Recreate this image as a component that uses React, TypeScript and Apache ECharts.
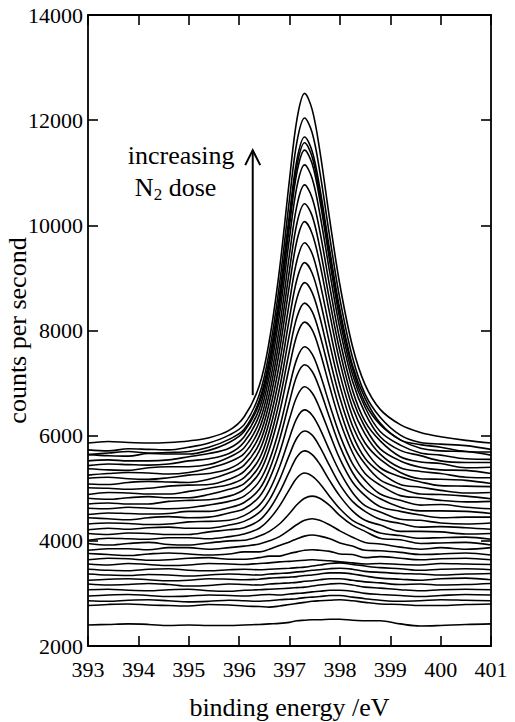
import React, { useEffect, useRef } from "react";
import * as echarts from "echarts";

// binding energy grid (eV)
const energies = [393.0, 393.4, 393.8, 394.2, 394.6, 395.0, 395.4, 395.8, 396.1, 396.4, 396.6, 396.8, 397.0, 397.15, 397.3, 397.45, 397.6, 397.8, 398.0, 398.25, 398.5, 398.8, 399.2, 399.6, 400.0, 400.5, 401.0];

// counts per second, highest N2 dose first
const s00 = [5860, 5890, 5870, 5860, 5870, 5900, 5960, 6100, 6360, 6950, 7810, 9150, 10870, 12030, 12510, 12200, 11430, 10100, 8870, 7700, 6970, 6500, 6210, 6060, 5980, 5910, 5860];
const s01 = [5730, 5710, 5750, 5740, 5730, 5780, 5860, 6010, 6210, 6780, 7600, 8870, 10500, 11600, 12040, 11760, 11030, 9770, 8600, 7490, 6790, 6350, 6010, 5870, 5840, 5810, 5740];
const s02 = [5640, 5670, 5700, 5670, 5680, 5700, 5780, 5930, 6120, 6670, 7450, 8660, 10210, 11260, 11680, 11410, 10720, 9520, 8400, 7340, 6710, 6240, 5920, 5830, 5780, 5700, 5690];
const s03 = [5640, 5620, 5610, 5660, 5650, 5650, 5720, 5870, 6080, 6610, 7390, 8580, 10120, 11150, 11570, 11300, 10610, 9430, 8330, 7280, 6620, 6210, 5920, 5760, 5710, 5700, 5630];
const s04 = [5520, 5540, 5520, 5520, 5540, 5600, 5660, 5760, 5980, 6510, 7280, 8470, 9990, 11020, 11430, 11170, 10490, 9310, 8210, 7170, 6540, 6080, 5820, 5670, 5630, 5560, 5550];
const s05 = [5430, 5460, 5450, 5440, 5460, 5520, 5560, 5660, 5880, 6390, 7140, 8290, 9760, 10750, 11150, 10890, 10230, 9100, 8040, 7040, 6430, 5980, 5720, 5620, 5520, 5490, 5490];
const s06 = [5370, 5350, 5340, 5390, 5410, 5410, 5450, 5590, 5770, 6260, 6970, 8050, 9450, 10390, 10770, 10520, 9900, 8830, 7820, 6870, 6270, 5900, 5600, 5500, 5470, 5390, 5400];
const s07 = [5250, 5280, 5300, 5290, 5270, 5300, 5380, 5500, 5660, 6130, 6800, 7830, 9150, 10050, 10410, 10180, 9580, 8560, 7610, 6700, 6160, 5750, 5520, 5400, 5350, 5340, 5280];
const s08 = [5190, 5210, 5180, 5170, 5200, 5250, 5280, 5370, 5550, 5990, 6630, 7610, 8870, 9720, 10070, 9840, 9280, 8310, 7400, 6540, 6030, 5650, 5390, 5320, 5280, 5210, 5200];
const s09 = [5080, 5070, 5110, 5130, 5120, 5110, 5170, 5290, 5440, 5850, 6450, 7370, 8550, 9340, 9670, 9460, 8930, 8020, 7170, 6370, 5860, 5550, 5300, 5180, 5170, 5150, 5090];
const s10 = [5010, 5000, 4980, 5000, 5040, 5060, 5070, 5170, 5320, 5710, 6270, 7130, 8240, 8980, 9290, 9090, 8600, 7740, 6950, 6190, 5730, 5390, 5220, 5120, 5050, 5040, 5030];
const s11 = [4880, 4920, 4910, 4890, 4890, 4940, 5000, 5070, 5200, 5560, 6090, 6890, 7930, 8620, 8910, 8720, 8260, 7460, 6720, 6020, 5570, 5300, 5070, 5020, 4960, 4910, 4920];
const s12 = [4810, 4790, 4820, 4840, 4820, 4820, 4880, 4980, 5090, 5420, 5910, 6660, 7620, 8260, 8520, 8360, 7930, 7190, 6500, 5840, 5460, 5160, 5000, 4890, 4880, 4850, 4800];
const s13 = [4700, 4720, 4700, 4700, 4750, 4770, 4780, 4850, 4980, 5290, 5740, 6430, 7320, 7920, 8160, 8010, 7610, 6920, 6280, 5680, 5280, 5060, 4860, 4820, 4770, 4740, 4750];
const s14 = [4620, 4610, 4640, 4620, 4610, 4630, 4680, 4750, 4850, 5130, 5530, 6140, 6940, 7470, 7690, 7550, 7190, 6580, 6010, 5470, 5150, 4890, 4770, 4680, 4690, 4640, 4610];
const s15 = [4500, 4530, 4520, 4510, 4520, 4560, 4560, 4630, 4730, 4980, 5350, 5920, 6650, 7150, 7350, 7220, 6890, 6330, 5800, 5300, 4990, 4800, 4640, 4570, 4570, 4560, 4520];
const s16 = [4440, 4420, 4400, 4440, 4460, 4440, 4450, 4530, 4610, 4840, 5170, 5670, 6320, 6750, 6930, 6810, 6520, 6030, 5560, 5120, 4860, 4650, 4560, 4490, 4440, 4450, 4450];
const s17 = [4320, 4340, 4330, 4310, 4320, 4360, 4370, 4390, 4480, 4680, 4960, 5400, 5960, 6340, 6490, 6390, 6140, 5710, 5310, 4920, 4670, 4550, 4410, 4390, 4340, 4320, 4340];
const s18 = [4210, 4240, 4220, 4250, 4260, 4240, 4240, 4300, 4370, 4540, 4780, 5160, 5640, 5960, 6090, 6010, 5790, 5420, 5070, 4750, 4560, 4410, 4330, 4260, 4270, 4250, 4220];
const s19 = [4140, 4120, 4150, 4140, 4120, 4120, 4170, 4210, 4250, 4390, 4600, 4920, 5320, 5600, 5710, 5640, 5460, 5140, 4850, 4570, 4390, 4300, 4180, 4180, 4170, 4130, 4140];
const s20 = [4010, 4050, 4040, 4030, 4060, 4060, 4040, 4080, 4130, 4240, 4410, 4660, 4980, 5200, 5290, 5230, 5090, 4840, 4610, 4390, 4270, 4150, 4100, 4050, 4060, 4070, 4030];
const s21 = [3950, 3920, 3950, 3970, 3930, 3920, 3960, 4000, 4010, 4090, 4180, 4320, 4520, 4690, 4810, 4850, 4810, 4670, 4480, 4300, 4180, 4050, 4020, 3950, 3960, 3970, 3920];
const s22 = [3820, 3850, 3850, 3830, 3870, 3870, 3840, 3870, 3900, 3940, 4000, 4080, 4210, 4310, 4390, 4420, 4390, 4300, 4190, 4070, 3970, 3940, 3880, 3840, 3870, 3840, 3870];
const s23 = [3760, 3740, 3720, 3750, 3770, 3750, 3730, 3750, 3790, 3790, 3840, 3910, 3980, 4040, 4090, 4110, 4090, 4040, 3960, 3900, 3820, 3810, 3780, 3740, 3750, 3770, 3730];
const s24 = [3640, 3670, 3660, 3630, 3640, 3670, 3680, 3650, 3650, 3680, 3710, 3710, 3760, 3790, 3820, 3830, 3820, 3800, 3750, 3740, 3680, 3700, 3670, 3640, 3660, 3670, 3640];
const s25 = [3560, 3540, 3570, 3550, 3530, 3540, 3570, 3560, 3550, 3570, 3580, 3600, 3610, 3620, 3630, 3640, 3630, 3620, 3600, 3580, 3560, 3570, 3550, 3540, 3570, 3560, 3550];
const s26 = [3460, 3440, 3430, 3460, 3470, 3440, 3430, 3450, 3460, 3450, 3460, 3470, 3480, 3490, 3500, 3520, 3540, 3570, 3580, 3550, 3520, 3490, 3470, 3440, 3460, 3470, 3450];
const s27 = [3370, 3350, 3340, 3360, 3350, 3330, 3350, 3370, 3360, 3350, 3370, 3380, 3390, 3410, 3420, 3440, 3450, 3470, 3480, 3460, 3420, 3400, 3380, 3370, 3350, 3370, 3380];
const s28 = [3250, 3270, 3280, 3260, 3240, 3250, 3280, 3270, 3260, 3270, 3290, 3300, 3310, 3320, 3340, 3350, 3370, 3390, 3390, 3370, 3330, 3290, 3270, 3250, 3280, 3290, 3260];
const s29 = [3180, 3160, 3170, 3190, 3170, 3140, 3150, 3180, 3170, 3160, 3180, 3190, 3200, 3210, 3230, 3240, 3260, 3280, 3280, 3250, 3220, 3200, 3170, 3180, 3160, 3170, 3190];
const s30 = [3070, 3080, 3060, 3050, 3070, 3080, 3050, 3040, 3060, 3070, 3080, 3090, 3100, 3110, 3120, 3140, 3160, 3180, 3190, 3160, 3120, 3100, 3070, 3050, 3070, 3080, 3070];
const s31 = [2950, 2970, 2980, 2960, 2940, 2950, 2970, 2960, 2950, 2970, 2980, 2970, 2990, 3000, 3010, 3030, 3040, 3060, 3060, 3040, 3000, 2980, 2960, 2940, 2960, 2980, 2970];
const s32 = [2860, 2850, 2870, 2880, 2860, 2840, 2850, 2870, 2860, 2850, 2860, 2880, 2890, 2900, 2920, 2930, 2940, 2960, 2960, 2930, 2900, 2870, 2850, 2860, 2880, 2870, 2860];
const s33 = [2770, 2790, 2800, 2780, 2770, 2760, 2790, 2780, 2760, 2750, 2740, 2760, 2790, 2810, 2830, 2850, 2860, 2870, 2880, 2860, 2830, 2800, 2790, 2770, 2770, 2790, 2800];
const s34 = [2400, 2410, 2420, 2410, 2390, 2400, 2390, 2390, 2400, 2410, 2420, 2430, 2450, 2480, 2490, 2500, 2500, 2510, 2510, 2490, 2480, 2480, 2420, 2380, 2390, 2410, 2420];

const spectra = [s00, s01, s02, s03, s04, s05, s06, s07, s08, s09, s10, s11, s12, s13, s14, s15, s16, s17, s18, s19, s20, s21, s22, s23, s24, s25, s26, s27, s28, s29, s30, s31, s32, s33, s34];

// axis settings
const xMin = 393;
const xMax = 401;
const yMin = 2000;
const yMax = 14000;
const yStep = 2000;
const xTitle = "binding energy /eV";
const yTitle = "counts per second";

// annotation arrow (data coordinates)
const arrowEnergy = 396.27;
const arrowFrom = 6770;
const arrowTo = 11430;
const annotationLine1 = "increasing";
const annotationLine2 = ["N", "2", " dose"];

const FONT = "Liberation Serif";

export default function App() {
  const ref = useRef<HTMLDivElement>(null);

  useEffect(() => {
    if (!ref.current) return;
    const chart = echarts.init(ref.current, null, { renderer: "svg" });
    const axisLine = { show: true, lineStyle: { color: "#000", width: 1.8 } };
    const tick = { show: true, inside: true, length: 10, lineStyle: { color: "#000", width: 1.6 } };
    const labelRich = { t: { color: "#000", fontFamily: FONT, fontSize: 22 } };
    const nameRich = { t: { color: "#000", fontFamily: FONT, fontSize: 26 } };
    const option: any = {
      animation: false,
      backgroundColor: "#fff",
      textStyle: { fontFamily: FONT, color: "#000" },
      grid: { left: 88, right: 24, top: 15, bottom: 76, containLabel: false, outerBoundsMode: "none" },
      xAxis: [
        {
          type: "value",
          min: xMin,
          max: xMax,
          interval: 1,
          position: "bottom",
          axisLine,
          axisTick: tick,
          splitLine: { show: false },
          axisLabel: {
            color: "#000", fontFamily: FONT, fontSize: 22, margin: 12,
            formatter: (v: number) => "{t|" + v + "}",
            rich: labelRich,
          },
          name: "{t|" + xTitle + "}",
          nameLocation: "middle",
          nameGap: 48,
          nameMoveOverlap: false,
          nameTextStyle: { color: "#000", fontFamily: FONT, fontSize: 26, rich: nameRich },
        },
        {
          type: "value",
          min: xMin,
          max: xMax,
          interval: 1,
          position: "top",
          axisLine,
          axisTick: tick,
          splitLine: { show: false },
          axisLabel: { show: false },
        },
      ],
      yAxis: [
        {
          type: "value",
          min: yMin,
          max: yMax,
          interval: yStep,
          position: "left",
          axisLine,
          axisTick: tick,
          splitLine: { show: false },
          axisLabel: {
            color: "#000", fontFamily: FONT, fontSize: 22, margin: 5,
            formatter: (v: number) => "{t|" + v + "}",
            rich: labelRich,
          },
          name: "{t|" + yTitle + "}",
          nameLocation: "middle",
          nameGap: 58,
          nameMoveOverlap: false,
          nameTextStyle: { color: "#000", fontFamily: FONT, fontSize: 26, rich: nameRich },
        },
        {
          type: "value",
          min: yMin,
          max: yMax,
          interval: yStep,
          position: "right",
          axisLine,
          axisTick: tick,
          splitLine: { show: false },
          axisLabel: { show: false },
        },
      ],
      series: spectra.map((s, i) => ({
        type: "line",
        name: "spectrum " + (i + 1),
        xAxisIndex: 0,
        yAxisIndex: 0,
        data: energies.map((e, j) => [e, s[j]]),
        smooth: 0.35,
        showSymbol: false,
        symbol: "none",
        silent: true,
        lineStyle: { color: "#000", width: 1.6 },
      })),
    };
    chart.setOption(option);

    const top = chart.convertToPixel({ xAxisIndex: 0, yAxisIndex: 0 }, [arrowEnergy, arrowTo]) as number[];
    const bottom = chart.convertToPixel({ xAxisIndex: 0, yAxisIndex: 0 }, [arrowEnergy, arrowFrom]) as number[];
    const ax = top[0];
    const ay = top[1];
    const textStyle = { fill: "#000", fontFamily: FONT };
    chart.setOption({
      graphic: [
        {
          type: "line",
          shape: { x1: ax, y1: bottom[1], x2: ax, y2: ay + 2 },
          style: { stroke: "#000", lineWidth: 2 },
          silent: true,
        },
        {
          type: "polyline",
          shape: { points: [[ax - 7.5, ay + 15], [ax, ay], [ax + 7.5, ay + 15]] },
          style: { stroke: "#000", lineWidth: 2, fill: "none" },
          silent: true,
        },
        {
          type: "text",
          x: ax - 125,
          y: ay + 5,
          style: { ...textStyle, text: annotationLine1, fontSize: 26, align: "left", verticalAlign: "middle" },
          silent: true,
        },
        {
          type: "text",
          x: ax - 118,
          y: ay + 37,
          style: { ...textStyle, text: annotationLine2[0], fontSize: 26, align: "left", verticalAlign: "middle" },
          silent: true,
        },
        {
          type: "text",
          x: ax - 99,
          y: ay + 44,
          style: { ...textStyle, text: annotationLine2[1], fontSize: 17, align: "left", verticalAlign: "middle" },
          silent: true,
        },
        {
          type: "text",
          x: ax - 90.5,
          y: ay + 37,
          style: { ...textStyle, text: annotationLine2[2], fontSize: 26, align: "left", verticalAlign: "middle" },
          silent: true,
        },
      ],
    });

    return () => chart.dispose();
  }, []);

  return (
    <div
      ref={ref}
      style={{ position: "fixed", left: 0, top: 0, width: 515, height: 722, background: "#fff" }}
    />
  );
}
